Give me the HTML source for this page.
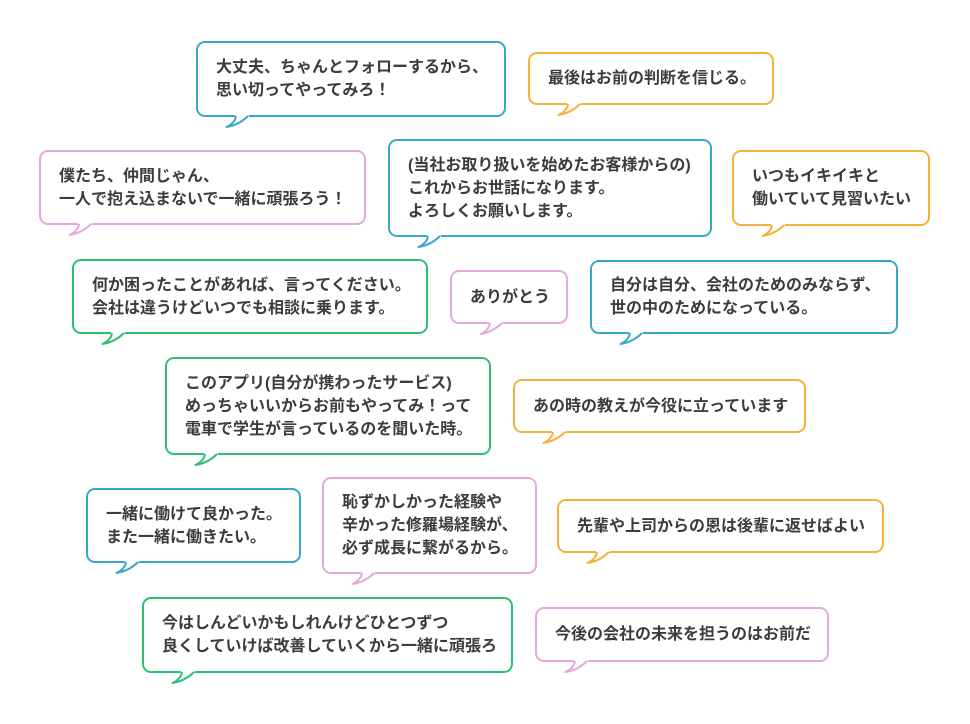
<!DOCTYPE html>
<html>
<head>
<meta charset="utf-8">
<style>
  html,body{margin:0;padding:0;background:#fff;}
  body{width:970px;height:724px;position:relative;overflow:hidden;
       font-family:"Liberation Sans","Noto Sans CJK JP",sans-serif;}
  .q{position:absolute;box-sizing:border-box;border:2px solid;border-radius:9px;background:#fff;
     display:flex;align-items:center;padding-left:18px;
     font-size:16px;line-height:23px;font-weight:bold;color:#3c3c3c;white-space:nowrap;}
  .q svg{position:absolute;left:24px;bottom:-14px;width:30px;height:16px;overflow:visible;}
  .q svg .f{fill:#fff;stroke:none;}
  .q svg .s{fill:none;stroke-width:2;stroke-linejoin:round;stroke-linecap:butt;}
  .b{border-color:#3aa7c8;} .b .s{stroke:#3aa7c8;}
  .o{border-color:#f6b13a;} .o .s{stroke:#f6b13a;}
  .p{border-color:#e4a8dc;} .p .s{stroke:#e4a8dc;}
  .g{border-color:#2cc072;} .g .s{stroke:#2cc072;}
</style>
</head>
<body>

<div class="q b" style="left:196px;top:41px;width:310px;height:76px;">
  <div>大丈夫、ちゃんとフォローするから、<br>思い切ってやってみろ！</div>
  <svg viewBox="0 0 30 16"><path class="f" d="M13,1.5 L13,3 Q13,10 4.5,14 Q17,12 27,3 L27,1.5 Z"/><path class="s" d="M14,3 Q13,10 4.5,14 Q17,12 26,3"/></svg>
</div>

<div class="q o" style="left:528px;top:52px;width:246px;height:53px;">
  <div>最後はお前の判断を信じる。</div>
  <svg viewBox="0 0 30 16"><path class="f" d="M13,1.5 L13,3 Q13,10 4.5,14 Q17,12 27,3 L27,1.5 Z"/><path class="s" d="M14,3 Q13,10 4.5,14 Q17,12 26,3"/></svg>
</div>

<div class="q p" style="left:39px;top:150px;width:327px;height:75px;">
  <div>僕たち、仲間じゃん、<br>一人で抱え込まないで一緒に頑張ろう！</div>
  <svg viewBox="0 0 30 16"><path class="f" d="M13,1.5 L13,3 Q13,10 4.5,14 Q17,12 27,3 L27,1.5 Z"/><path class="s" d="M14,3 Q13,10 4.5,14 Q17,12 26,3"/></svg>
</div>

<div class="q b" style="left:388px;top:139px;width:324px;height:98px;">
  <div>(当社お取り扱いを始めたお客様からの)<br>これからお世話になります。<br>よろしくお願いします。</div>
  <svg viewBox="0 0 30 16"><path class="f" d="M13,1.5 L13,3 Q13,10 4.5,14 Q17,12 27,3 L27,1.5 Z"/><path class="s" d="M14,3 Q13,10 4.5,14 Q17,12 26,3"/></svg>
</div>

<div class="q o" style="left:732px;top:150px;width:198px;height:76px;">
  <div>いつもイキイキと<br>働いていて見習いたい</div>
  <svg viewBox="0 0 30 16"><path class="f" d="M13,1.5 L13,3 Q13,10 4.5,14 Q17,12 27,3 L27,1.5 Z"/><path class="s" d="M14,3 Q13,10 4.5,14 Q17,12 26,3"/></svg>
</div>

<div class="q g" style="left:72px;top:259px;width:356px;height:75px;">
  <div>何か困ったことがあれば、言ってください。<br>会社は違うけどいつでも相談に乗ります。</div>
  <svg viewBox="0 0 30 16"><path class="f" d="M13,1.5 L13,3 Q13,10 4.5,14 Q17,12 27,3 L27,1.5 Z"/><path class="s" d="M14,3 Q13,10 4.5,14 Q17,12 26,3"/></svg>
</div>

<div class="q p" style="left:450px;top:270px;width:118px;height:54px;">
  <div>ありがとう</div>
  <svg viewBox="0 0 30 16"><path class="f" d="M13,1.5 L13,3 Q13,10 4.5,14 Q17,12 27,3 L27,1.5 Z"/><path class="s" d="M14,3 Q13,10 4.5,14 Q17,12 26,3"/></svg>
</div>

<div class="q b" style="left:590px;top:260px;width:308px;height:74px;">
  <div>自分は自分、会社のためのみならず、<br>世の中のためになっている。</div>
  <svg viewBox="0 0 30 16"><path class="f" d="M13,1.5 L13,3 Q13,10 4.5,14 Q17,12 27,3 L27,1.5 Z"/><path class="s" d="M14,3 Q13,10 4.5,14 Q17,12 26,3"/></svg>
</div>

<div class="q g" style="left:165px;top:357px;width:326px;height:98px;">
  <div>このアプリ(自分が携わったサービス)<br>めっちゃいいからお前もやってみ！って<br>電車で学生が言っているのを聞いた時。</div>
  <svg viewBox="0 0 30 16"><path class="f" d="M13,1.5 L13,3 Q13,10 4.5,14 Q17,12 27,3 L27,1.5 Z"/><path class="s" d="M14,3 Q13,10 4.5,14 Q17,12 26,3"/></svg>
</div>

<div class="q o" style="left:513px;top:379px;width:293px;height:54px;">
  <div>あの時の教えが今役に立っています</div>
  <svg viewBox="0 0 30 16"><path class="f" d="M13,1.5 L13,3 Q13,10 4.5,14 Q17,12 27,3 L27,1.5 Z"/><path class="s" d="M14,3 Q13,10 4.5,14 Q17,12 26,3"/></svg>
</div>

<div class="q b" style="left:86px;top:488px;width:215px;height:75px;">
  <div>一緒に働けて良かった。<br>また一緒に働きたい。</div>
  <svg viewBox="0 0 30 16"><path class="f" d="M13,1.5 L13,3 Q13,10 4.5,14 Q17,12 27,3 L27,1.5 Z"/><path class="s" d="M14,3 Q13,10 4.5,14 Q17,12 26,3"/></svg>
</div>

<div class="q p" style="left:322px;top:477px;width:215px;height:97px;">
  <div>恥ずかしかった経験や<br>辛かった修羅場経験が、<br>必ず成長に繋がるから。</div>
  <svg viewBox="0 0 30 16"><path class="f" d="M13,1.5 L13,3 Q13,10 4.5,14 Q17,12 27,3 L27,1.5 Z"/><path class="s" d="M14,3 Q13,10 4.5,14 Q17,12 26,3"/></svg>
</div>

<div class="q o" style="left:557px;top:499px;width:327px;height:54px;">
  <div>先輩や上司からの恩は後輩に返せばよい</div>
  <svg viewBox="0 0 30 16"><path class="f" d="M13,1.5 L13,3 Q13,10 4.5,14 Q17,12 27,3 L27,1.5 Z"/><path class="s" d="M14,3 Q13,10 4.5,14 Q17,12 26,3"/></svg>
</div>

<div class="q g" style="left:142px;top:597px;width:371px;height:76px;">
  <div>今はしんどいかもしれんけどひとつずつ<br>良くしていけば改善していくから一緒に頑張ろ</div>
  <svg viewBox="0 0 30 16"><path class="f" d="M13,1.5 L13,3 Q13,10 4.5,14 Q17,12 27,3 L27,1.5 Z"/><path class="s" d="M14,3 Q13,10 4.5,14 Q17,12 26,3"/></svg>
</div>

<div class="q p" style="left:535px;top:607px;width:294px;height:55px;">
  <div>今後の会社の未来を担うのはお前だ</div>
  <svg viewBox="0 0 30 16"><path class="f" d="M13,1.5 L13,3 Q13,10 4.5,14 Q17,12 27,3 L27,1.5 Z"/><path class="s" d="M14,3 Q13,10 4.5,14 Q17,12 26,3"/></svg>
</div>

</body>
</html>
